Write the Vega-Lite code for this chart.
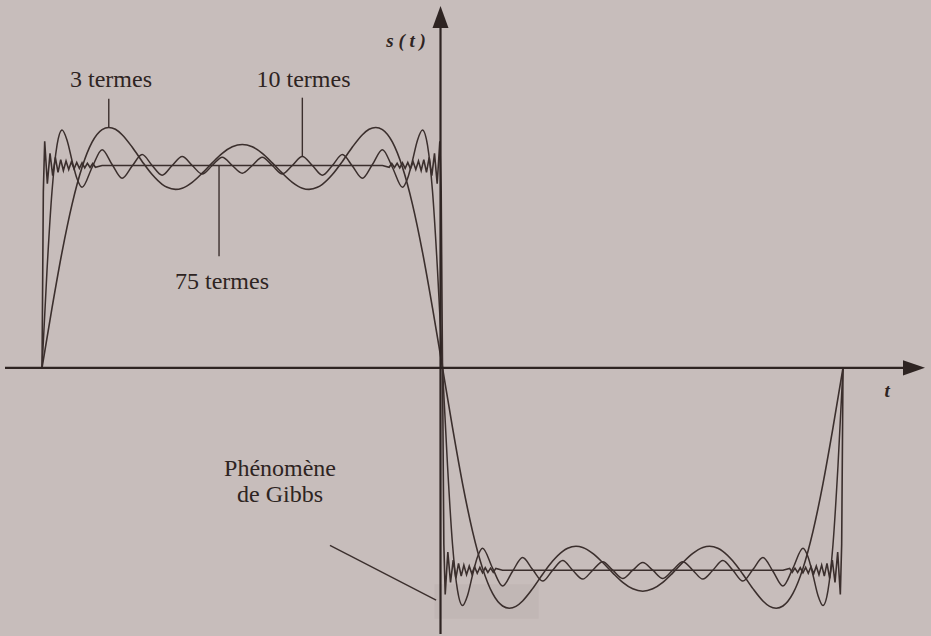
{
"$schema": "https://vega.github.io/schema/vega-lite/v6.json",
"width": 931, "height": 636,
"autosize": {"type": "fit", "contains": "padding"},
"padding": 0,
"background": "#c7bdbb",
"config": {"view": {"stroke": null}},
"datasets": {
"c3": [
{"t":0,"s":0},{"t":0.025,"s":0.296},{"t":0.05,"s":0.572},{"t":0.075,"s":0.808},{"t":0.1,"s":0.991},{"t":0.125,"s":1.115},{"t":0.15,"s":1.177},{"t":0.1667,"s":1.188},{"t":0.1833,"s":1.179},{"t":0.2,"s":1.152},{"t":0.225,"s":1.091},{"t":0.25,"s":1.02},{"t":0.275,"s":0.955},{"t":0.3,"s":0.907},{"t":0.3125,"s":0.892},{"t":0.3333,"s":0.882},{"t":0.35,"s":0.888},{"t":0.375,"s":0.917},{"t":0.4,"s":0.962},{"t":0.425,"s":1.013},{"t":0.45,"s":1.06},{"t":0.475,"s":1.092},{"t":0.5,"s":1.104},
{"t":0.525,"s":1.092},{"t":0.55,"s":1.06},{"t":0.575,"s":1.013},{"t":0.6,"s":0.962},{"t":0.625,"s":0.917},{"t":0.65,"s":0.888},{"t":0.6667,"s":0.882},{"t":0.6875,"s":0.892},{"t":0.7,"s":0.907},{"t":0.725,"s":0.955},{"t":0.75,"s":1.02},{"t":0.775,"s":1.091},{"t":0.8,"s":1.152},{"t":0.8167,"s":1.179},{"t":0.8333,"s":1.188},{"t":0.85,"s":1.177},{"t":0.875,"s":1.115},{"t":0.9,"s":0.991},{"t":0.925,"s":0.808},{"t":0.95,"s":0.572},{"t":0.975,"s":0.296},{"t":1,"s":0},
{"t":1.025,"s":-0.296},{"t":1.05,"s":-0.572},{"t":1.075,"s":-0.808},{"t":1.1,"s":-0.991},{"t":1.125,"s":-1.115},{"t":1.15,"s":-1.177},{"t":1.1667,"s":-1.188},{"t":1.1833,"s":-1.179},{"t":1.2,"s":-1.152},{"t":1.225,"s":-1.091},{"t":1.25,"s":-1.02},{"t":1.275,"s":-0.955},{"t":1.3,"s":-0.907},{"t":1.3125,"s":-0.892},{"t":1.3333,"s":-0.882},{"t":1.35,"s":-0.888},{"t":1.375,"s":-0.917},{"t":1.4,"s":-0.962},{"t":1.425,"s":-1.013},{"t":1.45,"s":-1.06},{"t":1.475,"s":-1.092},{"t":1.5,"s":-1.104},
{"t":1.525,"s":-1.092},{"t":1.55,"s":-1.06},{"t":1.575,"s":-1.013},{"t":1.6,"s":-0.962},{"t":1.625,"s":-0.917},{"t":1.65,"s":-0.888},{"t":1.6667,"s":-0.882},{"t":1.6875,"s":-0.892},{"t":1.7,"s":-0.907},{"t":1.725,"s":-0.955},{"t":1.75,"s":-1.02},{"t":1.775,"s":-1.091},{"t":1.8,"s":-1.152},{"t":1.8167,"s":-1.179},{"t":1.8333,"s":-1.188},{"t":1.85,"s":-1.177},{"t":1.875,"s":-1.115},{"t":1.9,"s":-0.991},{"t":1.925,"s":-0.808},{"t":1.95,"s":-0.572},{"t":1.975,"s":-0.296},{"t":2,"s":0}
],
"c10": [
{"t":0,"s":0},{"t":0.0125,"s":0.483},{"t":0.025,"s":0.873},{"t":0.0375,"s":1.1},{"t":0.05,"s":1.175},{"t":0.0625,"s":1.125},{"t":0.075,"s":1.024},{"t":0.0875,"s":0.934},{"t":0.1,"s":0.892},{"t":0.125,"s":0.99},{"t":0.15,"s":1.078},{"t":0.175,"s":1.005},{"t":0.2,"s":0.937},{"t":0.225,"s":0.997},{"t":0.25,"s":1.054},{"t":0.275,"s":1.0},{"t":0.3,"s":0.952},{"t":0.325,"s":1.0},{"t":0.35,"s":1.044},{"t":0.375,"s":1.0},{"t":0.4,"s":0.958},{"t":0.425,"s":1.0},{"t":0.45,"s":1.041},{"t":0.475,"s":1.0},{"t":0.5,"s":0.962},
{"t":0.525,"s":1.0},{"t":0.55,"s":1.041},{"t":0.575,"s":1.0},{"t":0.6,"s":0.958},{"t":0.625,"s":1.0},{"t":0.65,"s":1.044},{"t":0.675,"s":1.0},{"t":0.7,"s":0.952},{"t":0.725,"s":1.0},{"t":0.75,"s":1.054},{"t":0.775,"s":0.997},{"t":0.8,"s":0.937},{"t":0.825,"s":1.005},{"t":0.85,"s":1.078},{"t":0.875,"s":0.99},{"t":0.9,"s":0.892},{"t":0.9125,"s":0.934},{"t":0.925,"s":1.024},{"t":0.9375,"s":1.125},{"t":0.95,"s":1.175},{"t":0.9625,"s":1.1},{"t":0.975,"s":0.873},{"t":0.9875,"s":0.483},{"t":1,"s":0},
{"t":1.0125,"s":-0.483},{"t":1.025,"s":-0.873},{"t":1.0375,"s":-1.1},{"t":1.05,"s":-1.175},{"t":1.0625,"s":-1.125},{"t":1.075,"s":-1.024},{"t":1.0875,"s":-0.934},{"t":1.1,"s":-0.892},{"t":1.125,"s":-0.99},{"t":1.15,"s":-1.078},{"t":1.175,"s":-1.005},{"t":1.2,"s":-0.937},{"t":1.225,"s":-0.997},{"t":1.25,"s":-1.054},{"t":1.275,"s":-1.0},{"t":1.3,"s":-0.952},{"t":1.325,"s":-1.0},{"t":1.35,"s":-1.044},{"t":1.375,"s":-1.0},{"t":1.4,"s":-0.958},{"t":1.425,"s":-1.0},{"t":1.45,"s":-1.041},{"t":1.475,"s":-1.0},{"t":1.5,"s":-0.962},
{"t":1.525,"s":-1.0},{"t":1.55,"s":-1.041},{"t":1.575,"s":-1.0},{"t":1.6,"s":-0.958},{"t":1.625,"s":-1.0},{"t":1.65,"s":-1.044},{"t":1.675,"s":-1.0},{"t":1.7,"s":-0.952},{"t":1.725,"s":-1.0},{"t":1.75,"s":-1.054},{"t":1.775,"s":-0.997},{"t":1.8,"s":-0.937},{"t":1.825,"s":-1.005},{"t":1.85,"s":-1.078},{"t":1.875,"s":-0.99},{"t":1.9,"s":-0.892},{"t":1.9125,"s":-0.934},{"t":1.925,"s":-1.024},{"t":1.9375,"s":-1.125},{"t":1.95,"s":-1.175},{"t":1.9625,"s":-1.1},{"t":1.975,"s":-0.873},{"t":1.9875,"s":-0.483},{"t":2,"s":0}
],
"c75": [
{"t":0,"s":0},{"t":0.0033,"s":0.87},{"t":0.0067,"s":1.12},{"t":0.0133,"s":0.91},{"t":0.02,"s":1.06},{"t":0.0267,"s":0.95},{"t":0.0333,"s":1.04},{"t":0.04,"s":0.966},{"t":0.0467,"s":1.029},{"t":0.0533,"s":0.975},{"t":0.06,"s":1.022},{"t":0.0667,"s":0.98},{"t":0.0733,"s":1.018},{"t":0.08,"s":0.983},{"t":0.0867,"s":1.015},{"t":0.0933,"s":0.986},{"t":0.1,"s":1.013},{"t":0.1067,"s":0.988},{"t":0.1133,"s":1.011},{"t":0.12,"s":0.99},{"t":0.1267,"s":1.01},{"t":0.1333,"s":0.991},{"t":0.15,"s":1.0},
{"t":0.85,"s":1.0},{"t":0.8667,"s":0.991},{"t":0.8733,"s":1.01},{"t":0.88,"s":0.99},{"t":0.8867,"s":1.011},{"t":0.8933,"s":0.988},{"t":0.9,"s":1.013},{"t":0.9067,"s":0.986},{"t":0.9133,"s":1.015},{"t":0.92,"s":0.983},{"t":0.9267,"s":1.018},{"t":0.9333,"s":0.98},{"t":0.94,"s":1.022},{"t":0.9467,"s":0.975},{"t":0.9533,"s":1.029},{"t":0.96,"s":0.966},{"t":0.9667,"s":1.04},{"t":0.9733,"s":0.95},{"t":0.98,"s":1.06},{"t":0.9867,"s":0.91},{"t":0.9933,"s":1.12},{"t":0.9967,"s":0.87},{"t":1,"s":0},
{"t":1.0033,"s":-0.87},{"t":1.0067,"s":-1.12},{"t":1.0133,"s":-0.91},{"t":1.02,"s":-1.06},{"t":1.0267,"s":-0.95},{"t":1.0333,"s":-1.04},{"t":1.04,"s":-0.966},{"t":1.0467,"s":-1.029},{"t":1.0533,"s":-0.975},{"t":1.06,"s":-1.022},{"t":1.0667,"s":-0.98},{"t":1.0733,"s":-1.018},{"t":1.08,"s":-0.983},{"t":1.0867,"s":-1.015},{"t":1.0933,"s":-0.986},{"t":1.1,"s":-1.013},{"t":1.1067,"s":-0.988},{"t":1.1133,"s":-1.011},{"t":1.12,"s":-0.99},{"t":1.1267,"s":-1.01},{"t":1.1333,"s":-0.991},{"t":1.15,"s":-1.0},
{"t":1.85,"s":-1.0},{"t":1.8667,"s":-0.991},{"t":1.8733,"s":-1.01},{"t":1.88,"s":-0.99},{"t":1.8867,"s":-1.011},{"t":1.8933,"s":-0.988},{"t":1.9,"s":-1.013},{"t":1.9067,"s":-0.986},{"t":1.9133,"s":-1.015},{"t":1.92,"s":-0.983},{"t":1.9267,"s":-1.018},{"t":1.9333,"s":-0.98},{"t":1.94,"s":-1.022},{"t":1.9467,"s":-0.975},{"t":1.9533,"s":-1.029},{"t":1.96,"s":-0.966},{"t":1.9667,"s":-1.04},{"t":1.9733,"s":-0.95},{"t":1.98,"s":-1.06},{"t":1.9867,"s":-0.91},{"t":1.9933,"s":-1.12},{"t":1.9967,"s":-0.87},{"t":2,"s":0}
],
"axes": [
{"t":-0.0924,"s":0,"t2":2.15,"s2":0},
{"t":0.995,"s":1.68,"t2":0.995,"s2":-1.3153}
],
"pointers": [
{"t":0.1667,"s":1.33,"t2":0.1667,"s2":1.188},
{"t":0.65,"s":1.335,"t2":0.65,"s2":1.044},
{"t":0.442,"s":1.0,"t2":0.442,"s2":0.552},
{"t":0.719,"s":-0.877,"t2":0.984,"s2":-1.148}
],
"arrows": [
{"dir":"x","t":2.1773,"s":0},
{"dir":"y","t":0.995,"s":1.734}
],
"zone": [
{"t":0.98,"s":-1.07,"t2":1.24,"s2":-1.24}
],
"labels": [
{"kind":"note","label":"3 termes","t":0.1723,"s":1.424},
{"kind":"note","label":"10 termes","t":0.653,"s":1.424},
{"kind":"note","label":"75 termes","t":0.4494,"s":0.4236},
{"kind":"note","label":"Phénomène","t":0.5943,"s":-0.4975},
{"kind":"note","label":"de Gibbs","t":0.5943,"s":-0.6305},
{"kind":"axis","label":"s ( t )","t":0.9089,"s":1.6158},
{"kind":"axis","label":"t","t":2.1099,"s":-0.1133}
]
},
"encoding": {
"x": {"field":"t","type":"quantitative","scale":{"domain":[-0.1049,2.2197],"nice":false,"zero":false},"axis":null},
"y": {"field":"s","type":"quantitative","scale":{"domain":[-1.3153,1.8177],"nice":false,"zero":false},"axis":null}
},
"layer": [
{"data":{"name":"zone"},"mark":{"type":"rect","fill":"#9a8f8e","opacity":0.12},"encoding":{"x2":{"field":"t2"},"y2":{"field":"s2"}}},
{"data":{"name":"c3"},"mark":{"type":"line","interpolate":"monotone","color":"#3b2f2d","strokeWidth":1.6},"encoding":{}},
{"data":{"name":"c10"},"mark":{"type":"line","interpolate":"monotone","color":"#3b2f2d","strokeWidth":1.5},"encoding":{}},
{"data":{"name":"c75"},"mark":{"type":"line","interpolate":"linear","color":"#3b2f2d","strokeWidth":1.6},"encoding":{}},
{"data":{"name":"axes"},"mark":{"type":"rule","color":"#2e2422","strokeWidth":2.2},"encoding":{"x2":{"field":"t2"},"y2":{"field":"s2"}}},
{"data":{"name":"pointers"},"mark":{"type":"rule","color":"#3b2f2d","strokeWidth":1.4},"encoding":{"x2":{"field":"t2"},"y2":{"field":"s2"}}},
{"data":{"name":"arrows"},"transform":[{"filter":"datum.dir === 'x'"}],"mark":{"type":"point","shape":"M -1 -0.7 L 1 0 L -1 0.7 Z","size":484,"filled":true,"color":"#2e2422","opacity":1},"encoding":{}},
{"data":{"name":"arrows"},"transform":[{"filter":"datum.dir === 'y'"}],"mark":{"type":"point","shape":"M -0.727 1 L 0 -1 L 0.727 1 Z","size":484,"filled":true,"color":"#2e2422","opacity":1},"encoding":{}},
{"data":{"name":"labels"},"transform":[{"filter":"datum.kind === 'note'"}],"mark":{"type":"text","font":"Liberation Serif","fontSize":24,"color":"#2e2422","align":"center","baseline":"middle"},"encoding":{"text":{"field":"label"}}},
{"data":{"name":"labels"},"transform":[{"filter":"datum.kind === 'axis'"}],"mark":{"type":"text","font":"Liberation Serif","fontSize":19,"fontStyle":"italic","fontWeight":"bold","color":"#2e2422","align":"center","baseline":"middle"},"encoding":{"text":{"field":"label"}}}
]
}
